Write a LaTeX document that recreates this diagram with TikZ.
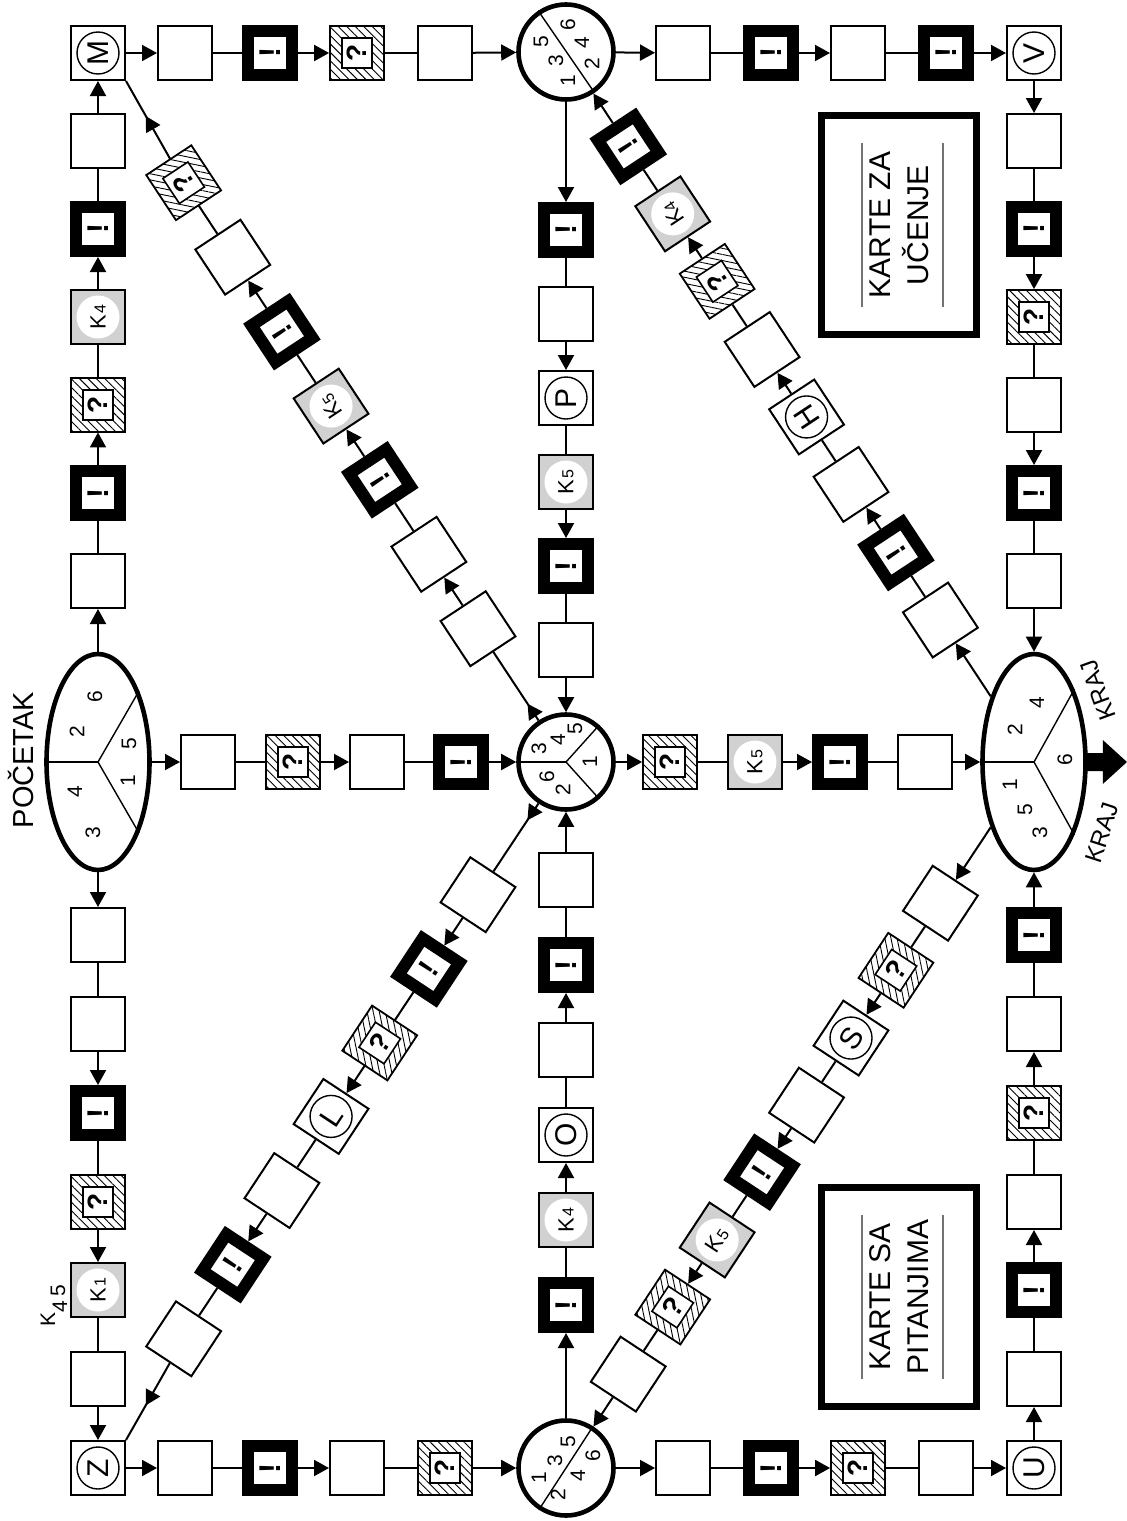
\documentclass[tikz,border=0pt]{standalone}
\usepackage{fontspec}
\setmainfont{Liberation Sans}
\usetikzlibrary{shapes.geometric,arrows.meta,patterns.meta,calc,decorations.markings}

\tikzset{
  sq/.style={draw,line width=1pt,minimum size=27pt,inner sep=0pt,fill=white},
  excl/.style={draw,line width=6pt,minimum size=22pt,inner sep=0pt,fill=white,
    font=\bfseries\fontsize{15}{15}\selectfont},
  hatch/.style={draw,line width=0.9pt,minimum size=27pt,inner sep=0pt,
    pattern={Lines[angle=#1,distance=3pt,line width=0.45pt]}},
  qin/.style={draw,line width=0.8pt,minimum size=15pt,inner sep=0pt,fill=white,
    font=\bfseries\fontsize{14}{14}\selectfont},
  kcard/.style={draw,line width=1pt,minimum size=27pt,inner sep=0pt,fill=black!18},
  kdisc/.style={circle,fill=white,minimum size=21.5pt,inner sep=0pt,
    font=\fontsize{11}{11}\selectfont},
  ring/.style={circle,draw,line width=0.7pt,minimum size=21pt,inner sep=0pt,
    font=\fontsize{15}{15}\selectfont},
  hub/.style={circle,draw,line width=2.3pt,minimum size=47.5pt,inner sep=0pt},
  oval/.style={ellipse,draw,line width=2.3pt,minimum width=51.5pt,minimum height=108pt,inner sep=0pt},
  num/.style={font=\fontsize{10.5}{10.5}\selectfont,inner sep=0pt},
  seg/.style={line width=0.7pt},
  lnk/.style={line width=1pt},
  arr/.style={line width=1pt,-{Triangle[length=7.5pt,width=8pt]}},
  outarr/.style={line width=1pt,postaction=decorate,decoration={markings,
    mark=at position #1 with {\arrow{Triangle[length=7.5pt,width=8pt]}}}},
  cardbox/.style={draw,line width=3.5pt,minimum width=77.5pt,minimum height=109.5pt,inner sep=0pt},
  cardtxt/.style={rotate=90,align=center,font=\fontsize{15}{19}\selectfont,inner sep=0pt},
  rule/.style={draw=black!55,line width=0.6pt},
}

% field boxes: name, position, rotation
\newcommand{\plainsq}[3]{\node[sq,rotate=#3] (#1) at (#2) {};}
\newcommand{\exsq}[3]{\node[excl,rotate=#3] (#1) at (#2) {!};}
\newcommand{\qsq}[3]{\pgfmathsetmacro{\hatchang}{45+#3}%
  \node[hatch=\hatchang,rotate=#3] (#1) at (#2) {};
  \node[qin,rotate=#3] (#1q) at (#1) {?};}
\newcommand{\ksq}[4]{\node[kcard,rotate=#3] (#1) at (#2) {};
  \node[kdisc,rotate=#3] (#1k) at (#1) {K\kern0.3pt{\fontsize{8}{8}\selectfont #4}};}
\newcommand{\lsq}[4]{\node[sq,rotate=#3] (#1) at (#2) {};
  \node[ring,rotate=#3] (#1l) at (#1) {#4};}

\begin{document}
\begin{tikzpicture}[x=0.5pt,y=-0.5pt]
\useasboundingbox (0,0) rectangle (1127,1521);

% junctions
\node[oval] (poc) at (98,762) {};
\node[oval] (krj) at (1034,762) {};
\node[hub] (hubc) at (566,762) {};
\node[hub] (hubt) at (566,52) {};
\node[hub] (hubb) at (566,1468) {};
\draw[seg] (poc.center) -- (poc.180);
\draw[seg] (poc.center) -- (poc.60);
\draw[seg] (poc.center) -- (poc.-60);
\draw[seg] (krj.center) -- (krj.180);
\draw[seg] (krj.center) -- (krj.61);
\draw[seg] (krj.center) -- (krj.-61);
\draw[seg] (hubc.center) -- (hubc.180);
\draw[seg] (hubc.center) -- (hubc.48);
\draw[seg] (hubc.center) -- (hubc.-48);
\draw[seg] (hubt.124.8) -- (hubt.-55.2);
\draw[seg] (hubb.57) -- (hubb.237);

% dice numbers
\node[num,rotate=90] (pn6) at (95,697) {6};
\node[num,rotate=90] (pn2) at (77,732) {2};
\node[num,rotate=90] (pn5) at (129,744) {5};
\node[num,rotate=90] (pn4) at (75,792) {4};
\node[num,rotate=90] (pn1) at (128,781) {1};
\node[num,rotate=90] (pn3) at (93,833) {3};
\node[num,rotate=90] (kn2) at (1015,730) {2};
\node[num,rotate=90] (kn4) at (1037,703) {4};
\node[num,rotate=90] (kn6) at (1065,760) {6};
\node[num,rotate=90] (kn1) at (1010,785) {1};
\node[num,rotate=90] (kn5) at (1025,810) {5};
\node[num,rotate=90] (kn3) at (1040,833) {3};
\node[num,rotate=90] (cn3) at (539,749) {3};
\node[num,rotate=90] (cn4) at (558,740) {4};
\node[num,rotate=90] (cn5) at (575,729) {5};
\node[num,rotate=90] (cn1) at (590,762) {1};
\node[num,rotate=90] (cn6) at (547,777) {6};
\node[num,rotate=90] (cn2) at (563,790) {2};
\node[num,rotate=90] (tn5) at (541,42) {5};
\node[num,rotate=90] (tn3) at (556,61) {3};
\node[num,rotate=90] (tn1) at (568,81) {1};
\node[num,rotate=90] (tn6) at (568,25) {6};
\node[num,rotate=90] (tn4) at (582,43) {4};
\node[num,rotate=90] (tn2) at (592,64) {2};
\node[num,rotate=90] (bn1) at (539,1478) {1};
\node[num,rotate=90] (bn3) at (555,1461) {3};
\node[num,rotate=90] (bn5) at (568,1442) {5};
\node[num,rotate=90] (bn2) at (558,1495) {2};
\node[num,rotate=90] (bn4) at (578,1476) {4};
\node[num,rotate=90] (bn6) at (593,1456) {6};

% corners
\lsq{m}{98,53}{90}{M}
\lsq{z}{98,1468}{90}{Z}
\lsq{v}{1034,53}{90}{V}
\lsq{u}{1034,1468}{90}{U}

% left column
\plainsq{lu1}{98,581}{90}
\exsq{lu2}{98,493}{90}
\qsq{lu3}{98,405}{90}
\ksq{lu4}{98,317}{90}{4}
\exsq{lu5}{98,229}{90}
\plainsq{lu6}{98,141}{90}
\plainsq{ld1}{98,935}{90}
\plainsq{ld2}{98,1024}{90}
\exsq{ld3}{98,1113}{90}
\qsq{ld4}{98,1202}{90}
\ksq{ld5}{98,1290}{90}{1}
\plainsq{ld6}{98,1379}{90}

% top row
\plainsq{tl1}{185,53}{90}
\exsq{tl2}{270,53}{90}
\qsq{tl3}{357,53}{90}
\plainsq{tl4}{445,53}{90}
\plainsq{tr1}{683,53}{90}
\exsq{tr2}{771,53}{90}
\plainsq{tr3}{858,53}{90}
\exsq{tr4}{946,53}{90}

% bottom row
\plainsq{bl1}{185,1468}{90}
\exsq{bl2}{270,1468}{90}
\plainsq{bl3}{357,1468}{90}
\qsq{bl4}{445,1468}{90}
\plainsq{br1}{683,1468}{90}
\exsq{br2}{771,1468}{90}
\qsq{br3}{858,1468}{90}
\plainsq{br4}{946,1468}{90}

% right column
\plainsq{rd1}{1034,141}{90}
\exsq{rd2}{1034,229}{90}
\qsq{rd3}{1034,317}{90}
\plainsq{rd4}{1034,405}{90}
\exsq{rd5}{1034,493}{90}
\plainsq{rd6}{1034,581}{90}
\exsq{ru6}{1034,935}{90}
\plainsq{ru5}{1034,1024}{90}
\qsq{ru4}{1034,1113}{90}
\plainsq{ru3}{1034,1202}{90}
\exsq{ru2}{1034,1290}{90}
\plainsq{ru1}{1034,1379}{90}

% middle column
\exsq{md1}{566,230}{90}
\plainsq{md2}{566,314}{90}
\lsq{md3}{566,398}{90}{P}
\ksq{md4}{566,482}{90}{5}
\exsq{md5}{566,566}{90}
\plainsq{md6}{566,650}{90}
\plainsq{mu6}{566,880}{90}
\exsq{mu5}{566,965}{90}
\plainsq{mu4}{566,1050}{90}
\lsq{mu3}{566,1135}{90}{O}
\ksq{mu2}{566,1220}{90}{4}
\exsq{mu1}{566,1305}{90}

% middle row
\plainsq{ml1}{208,762}{90}
\qsq{ml2}{293,762}{90}
\plainsq{ml3}{377,762}{90}
\exsq{ml4}{461,762}{90}
\qsq{mr1}{670,762}{90}
\ksq{mr2}{755,762}{90}{5}
\exsq{mr3}{840,762}{90}
\plainsq{mr4}{925,762}{90}

% diagonals
\plainsq{ul1}{$(hubc)!0.188!(m)$}{123.4}
\plainsq{ul2}{$(hubc)!0.293!(m)$}{123.4}
\exsq{ul3}{$(hubc)!0.398!(m)$}{123.4}
\ksq{ul4}{$(hubc)!0.502!(m)$}{123.4}{5}
\exsq{ul5}{$(hubc)!0.607!(m)$}{123.4}
\plainsq{ul6}{$(hubc)!0.712!(m)$}{123.4}
\qsq{ul7}{$(hubc)!0.817!(m)$}{123.4}

\plainsq{ll1}{$(hubc)!0.188!(z)$}{56.6}
\exsq{ll2}{$(hubc)!0.293!(z)$}{56.6}
\qsq{ll3}{$(hubc)!0.398!(z)$}{56.6}
\lsq{ll4}{$(hubc)!0.502!(z)$}{56.6}{L}
\plainsq{ll5}{$(hubc)!0.607!(z)$}{56.6}
\exsq{ll6}{$(hubc)!0.712!(z)$}{56.6}
\plainsq{ll7}{$(hubc)!0.817!(z)$}{56.6}

\plainsq{ur1}{$(krj)!0.200!(hubt)$}{123.4}
\exsq{ur2}{$(krj)!0.295!(hubt)$}{123.4}
\plainsq{ur3}{$(krj)!0.391!(hubt)$}{123.4}
\lsq{ur4}{$(krj)!0.486!(hubt)$}{123.4}{H}
\plainsq{ur5}{$(krj)!0.581!(hubt)$}{123.4}
\qsq{ur6}{$(krj)!0.677!(hubt)$}{123.4}
\ksq{ur7}{$(krj)!0.772!(hubt)$}{123.4}{4}
\exsq{ur8}{$(krj)!0.867!(hubt)$}{123.4}

\plainsq{lr1}{$(krj)!0.200!(hubb)$}{56.6}
\qsq{lr2}{$(krj)!0.295!(hubb)$}{56.6}
\lsq{lr3}{$(krj)!0.391!(hubb)$}{56.6}{S}
\plainsq{lr4}{$(krj)!0.486!(hubb)$}{56.6}
\exsq{lr5}{$(krj)!0.581!(hubb)$}{56.6}
\ksq{lr6}{$(krj)!0.677!(hubb)$}{56.6}{5}
\qsq{lr7}{$(krj)!0.772!(hubb)$}{56.6}
\plainsq{lr8}{$(krj)!0.867!(hubb)$}{56.6}

% left column links
\draw[arr] (poc) -- (lu1);
\draw[lnk] (lu1) -- (lu2);
\draw[arr] (lu2) -- (lu3);
\draw[lnk] (lu3) -- (lu4);
\draw[arr] (lu4) -- (lu5);
\draw[lnk] (lu5) -- (lu6);
\draw[arr] (lu6) -- (m);
\draw[arr] (poc) -- (ld1);
\draw[lnk] (ld1) -- (ld2);
\draw[arr] (ld2) -- (ld3);
\draw[lnk] (ld3) -- (ld4);
\draw[arr] (ld4) -- (ld5);
\draw[lnk] (ld5) -- (ld6);
\draw[arr] (ld6) -- (z);

% top row links
\draw[arr] (m) -- (tl1);
\draw[lnk] (tl1) -- (tl2);
\draw[arr] (tl2) -- (tl3);
\draw[lnk] (tl3) -- (tl4);
\draw[arr] (tl4) -- (hubt);
\draw[arr] (hubt) -- (tr1);
\draw[lnk] (tr1) -- (tr2);
\draw[arr] (tr2) -- (tr3);
\draw[lnk] (tr3) -- (tr4);
\draw[arr] (tr4) -- (v);

% right column links
\draw[arr] (v) -- (rd1);
\draw[lnk] (rd1) -- (rd2);
\draw[arr] (rd2) -- (rd3);
\draw[lnk] (rd3) -- (rd4);
\draw[arr] (rd4) -- (rd5);
\draw[lnk] (rd5) -- (rd6);
\draw[arr] (rd6) -- (krj);
\draw[arr] (u) -- (ru1);
\draw[lnk] (ru1) -- (ru2);
\draw[arr] (ru2) -- (ru3);
\draw[lnk] (ru3) -- (ru4);
\draw[arr] (ru4) -- (ru5);
\draw[lnk] (ru5) -- (ru6);
\draw[arr] (ru6) -- (krj);

% bottom row links
\draw[arr] (z) -- (bl1);
\draw[lnk] (bl1) -- (bl2);
\draw[arr] (bl2) -- (bl3);
\draw[lnk] (bl3) -- (bl4);
\draw[arr] (bl4) -- (hubb);
\draw[arr] (hubb) -- (br1);
\draw[lnk] (br1) -- (br2);
\draw[arr] (br2) -- (br3);
\draw[lnk] (br3) -- (br4);
\draw[arr] (br4) -- (u);

% middle column links
\draw[arr] (hubt) -- (md1);
\draw[lnk] (md1) -- (md2);
\draw[arr] (md2) -- (md3);
\draw[lnk] (md3) -- (md4);
\draw[arr] (md4) -- (md5);
\draw[lnk] (md5) -- (md6);
\draw[arr] (md6) -- (hubc);
\draw[arr] (hubb) -- (mu1);
\draw[lnk] (mu1) -- (mu2);
\draw[arr] (mu2) -- (mu3);
\draw[lnk] (mu3) -- (mu4);
\draw[arr] (mu4) -- (mu5);
\draw[lnk] (mu5) -- (mu6);
\draw[arr] (mu6) -- (hubc);

% middle row links
\draw[arr] (poc) -- (ml1);
\draw[lnk] (ml1) -- (ml2);
\draw[arr] (ml2) -- (ml3);
\draw[lnk] (ml3) -- (ml4);
\draw[arr] (ml4) -- (hubc);
\draw[arr] (hubc) -- (mr1);
\draw[lnk] (mr1) -- (mr2);
\draw[arr] (mr2) -- (mr3);
\draw[lnk] (mr3) -- (mr4);
\draw[arr] (mr4) -- (krj);

% diagonal links (corner squares are turned 90, so their anchors turn too)
\draw[outarr=10pt] (hubc) -- (ul1);
\draw[arr] (ul1) -- (ul2);
\draw[lnk] (ul2) -- (ul3);
\draw[arr] (ul3) -- (ul4);
\draw[lnk] (ul4) -- (ul5);
\draw[arr] (ul5) -- (ul6);
\draw[lnk] (ul6) -- (ul7);
\draw[outarr=0.55] (ul7) -- (m.south west);
\draw[outarr=10pt] (hubc) -- (ll1);
\draw[arr] (ll1) -- (ll2);
\draw[lnk] (ll2) -- (ll3);
\draw[arr] (ll3) -- (ll4);
\draw[lnk] (ll4) -- (ll5);
\draw[arr] (ll5) -- (ll6);
\draw[lnk] (ll6) -- (ll7);
\draw[outarr=0.55] (ll7) -- (z.south east);
\draw[arr] (krj) -- (ur1);
\draw[lnk] (ur1) -- (ur2);
\draw[arr] (ur2) -- (ur3);
\draw[lnk] (ur3) -- (ur4);
\draw[arr] (ur4) -- (ur5);
\draw[lnk] (ur5) -- (ur6);
\draw[arr] (ur6) -- (ur7);
\draw[lnk] (ur7) -- (ur8);
\draw[arr] (ur8) -- (hubt);
\draw[arr] (krj) -- (lr1);
\draw[lnk] (lr1) -- (lr2);
\draw[arr] (lr2) -- (lr3);
\draw[lnk] (lr3) -- (lr4);
\draw[arr] (lr4) -- (lr5);
\draw[lnk] (lr5) -- (lr6);
\draw[arr] (lr6) -- (lr7);
\draw[lnk] (lr7) -- (lr8);
\draw[arr] (lr8) -- (hubb);

% end arrow
\coordinate (kend) at (1127,762);
\fill ($(krj.east)+(-3,-9)$) -- ++(18,0) -- ++(0,-13) -- (kend)
  -- ($(krj.east)+(15,22)$) -- ++(0,-13) -- ++(-18,0) -- cycle;

% labels
\node[rotate=90,anchor=base,inner sep=0pt,font=\fontsize{14.5}{14.5}\selectfont] (start) at (33,760) {POČETAK};
\node[rotate=110,inner sep=0pt,font=\fontsize{12}{12}\selectfont] (endA) at (1098,690) {KRAJ};
\node[rotate=72,inner sep=0pt,font=\fontsize{12}{12}\selectfont] (endB) at (1102,833) {KRAJ};
\node[rotate=90,anchor=base west,inner sep=0pt,font=\fontsize{10.5}{10.5}\selectfont] (k45) at (55,1327)
  {K\raisebox{-6pt}{4}\kern2pt\raisebox{-5pt}{5}};

% card piles
\node[cardbox] (kza) at (899,225) {};
\node[cardtxt] (kzat) at (kza) {KARTE ZA\\UČENJE};
\draw[rule] ($(kza)+(-37,-82)$) -- ($(kza)+(-37,82)$);
\draw[rule] ($(kza)+(44,-82)$) -- ($(kza)+(44,82)$);
\node[cardbox] (ksp) at (899,1297) {};
\node[cardtxt] (kspt) at (ksp) {KARTE SA\\PITANJIMA};
\draw[rule] ($(ksp)+(-37,-82)$) -- ($(ksp)+(-37,82)$);
\draw[rule] ($(ksp)+(44,-82)$) -- ($(ksp)+(44,82)$);
\end{tikzpicture}
\end{document}
